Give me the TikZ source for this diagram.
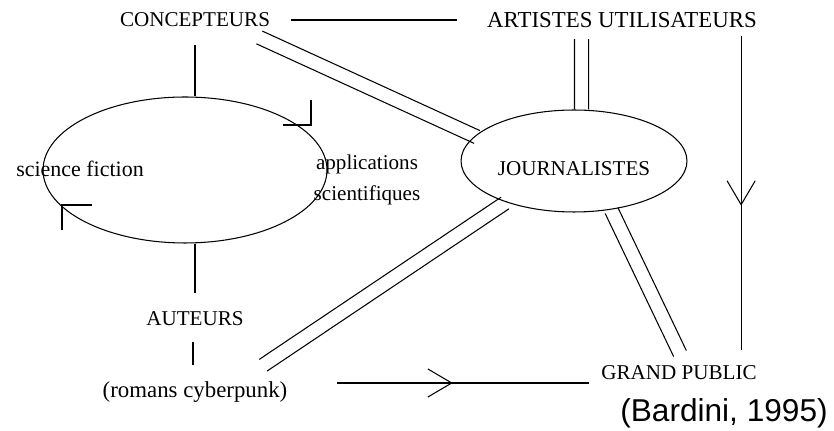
\documentclass[tikz,border=0pt]{standalone}
\usepackage{fontspec}
\setmainfont{Liberation Serif}
\newfontfamily\refsans{Liberation Sans}
\usetikzlibrary{shapes.geometric,arrows.meta,decorations.markings,calc}

\tikzset{
    lbl/.style={inner sep=0pt, font=\fontsize{12}{14}\selectfont},
    oval/.style={draw, ellipse, inner sep=0pt, line width=0.6pt},
    link/.style={line width=0.6pt},
    midarrow/.style={postaction={decorate}, decoration={markings,
        mark=at position #1 with {\arrow{Straight Barb[length=13.6pt, width=16pt, line width=0.6pt]}}}}
}

% two parallel lines between two points
\newcommand{\twolines}[2]{%
    \draw[link] ($(#1)!4pt!90:(#2)$) -- ($(#2)!4pt!-90:(#1)$);
    \draw[link] ($(#1)!4pt!-90:(#2)$) -- ($(#2)!4pt!90:(#1)$);}

\begin{document}
\begin{tikzpicture}[x=0.02cm, y=-0.02cm]
        \useasboundingbox (0, 0) rectangle (834, 431);

        \node[lbl] (conc) at (195, 20) {CONCEPTEURS};
        \node[lbl, font=\fontsize{13}{15}\selectfont] (art) at (622, 20) {ARTISTES UTILISATEURS};
        \node[oval, minimum width=5.68cm, minimum height=2.92cm] (cycle) at (185, 170) {};
        \node[lbl, font=\fontsize{12.5}{14}\selectfont] (sf) at (80, 169) {science fiction};
        \node[lbl, align=center, font=\fontsize{12}{17.6}\selectfont] (appl) at (367, 180)
            {applications\\scientifiques};
        \node[lbl] (aut) at (195, 319) {AUTEURS};
        \node[lbl, font=\fontsize{13}{15}\selectfont] (rom) at (195, 392) {(romans cyberpunk)};
        \node[oval, minimum width=4.52cm, minimum height=2.04cm, text height=17pt, text depth=0pt,
            font=\fontsize{12}{14}\selectfont] (jour) at (574, 161) {JOURNALISTES};
        \node[lbl] (gp) at (679, 373) {GRAND PUBLIC};
        \node[inner sep=0pt, font=\refsans\fontsize{18}{20}\selectfont] (bard) at (724, 413)
            {(Bardini, 1995)};

        % simple links
        \draw[link, shorten <=0.42cm, shorten >=0.6cm] (conc.east) -- (art.west);
        \draw[link, shorten <=0.36cm] (conc.south) -- (conc.south |- cycle.north);
        \draw[link, shorten >=0.38cm] (aut.north |- cycle.south) -- (aut.north);
        \draw[link, shorten <=0.32cm, shorten >=0.32cm] ([xshift=-0.04cm]aut.south) -- ([xshift=-0.04cm]rom.north);

        % ticks on the cycle
        \draw[link] ([shift={(126, -70)}]cycle.center) -- ++(0, 25) -- ++(-28, 0);
        \draw[link] ([shift={(-123, 60)}]cycle.center) -- ++(0, -25) -- ++(30, 0);

        % arrows
        \coordinate (vtop) at ([shift={(-16, 8)}]art.south east);
        \draw[link, midarrow=0.46] ([shift={(49, -9)}]rom.east) -- ([shift={(-12, 10)}]gp.west);
        \draw[link, midarrow=0.515, shorten >=0.32cm] (vtop) -- (vtop |- gp.north);

        % double links to the journalists
        \coordinate (cj1) at ([shift={(-11, 10)}]conc.south east);
        \coordinate (cj2) at ([shift={(-97, -24)}]jour.center);
        \coordinate (aj1) at ([shift={(-40.5, 11)}]art.south);
        \coordinate (aj2) at ([shift={(7.5, 0)}]jour.north);
        \coordinate (jr1) at ([shift={(-69, 42)}]jour.center);
        \coordinate (jr2) at ([shift={(-24.5, -16)}]rom.north east);
        \coordinate (jg1) at ([shift={(37.5, 49.5)}]jour.center);
        \coordinate (jg2) at ([shift={(1, -12)}]gp.north);
        \twolines{cj1}{cj2}
        \twolines{aj1}{aj2}
        \twolines{jr1}{jr2}
        \twolines{jg1}{jg2}
    \end{tikzpicture}
\end{document}
